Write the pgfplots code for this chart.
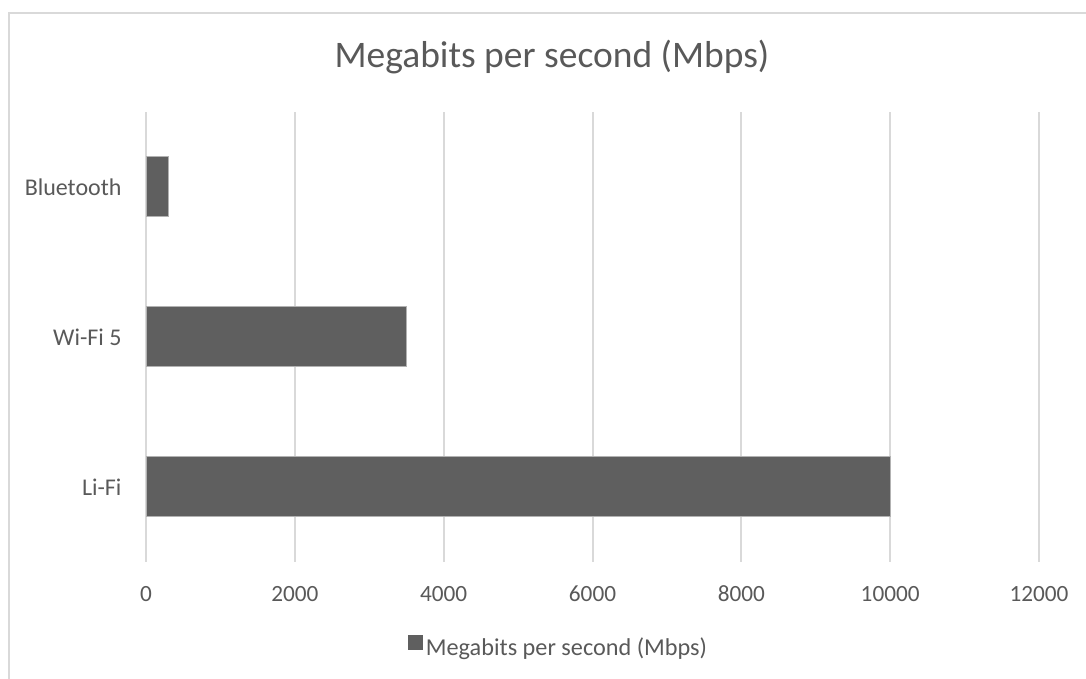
\documentclass[border=0pt]{standalone}
\usepackage{pgfplots}
\pgfplotsset{compat=1.18}
\usepackage{fontspec}
\setmainfont{Carlito}
\definecolor{txt}{HTML}{595959}
\definecolor{barc}{HTML}{5F5F5F}
\definecolor{gridc}{HTML}{D9D9D9}
\begin{document}
\begin{tikzpicture}
\begin{scope}[x=0.4pt,y=0.4pt]
\useasboundingbox (0,0) rectangle (1086,679);
\draw[gridc,line width=0.6pt] (9,0) -- (9,666) -- (1090,666);
\node[text=txt, font=\fontsize{15}{17}\selectfont, anchor=base, inner sep=0pt] at (552,611) {Megabits per second (Mbps)};
\end{scope}
\begin{axis}[
  at={(58.4pt,46.8pt)}, anchor=south west,
  scale only axis, width=357.2pt, height=180pt,
  xbar, bar width=0.4,
  xmin=0, xmax=12000, ymin=-0.5, ymax=2.5,
  xtick={0,2000,...,12000},
  ytick={0,1,2}, yticklabels={Li-Fi,Wi-Fi 5,Bluetooth},
  xmajorgrids, grid style={gridc, line width=0.8pt},
  axis line style={draw=none}, major tick length=0pt,
  tick label style={text=txt},
  xticklabel style={anchor=base, yshift=-16pt, inner sep=0pt, font=\fontsize{9.3}{11}\selectfont},
  yticklabel style={anchor=east, inner sep=0pt, xshift=-9.6pt, font=\fontsize{9.6}{11}\selectfont},
  scaled x ticks=false,
  /pgf/number format/.cd, 1000 sep={}, assume math mode=true, /pgfplots/.cd,
  legend style={draw=none, fill=none, at={(0.4625,-0.192)}, anchor=center,
    font=\fontsize{9.7}{11}\selectfont, text=txt, inner xsep=1pt,
    nodes={inner xsep=1.2pt}},
]
\addplot[fill=barc, draw=gray!60, line width=0.4pt,
  legend image code/.code={\fill[barc] (0pt,-0.3pt) rectangle (5.6pt,5.3pt);}]
  coordinates {(10000,0) (3500,1) (300,2)};
\legend{Megabits per second (Mbps)}
\end{axis}
\end{tikzpicture}
\end{document}
